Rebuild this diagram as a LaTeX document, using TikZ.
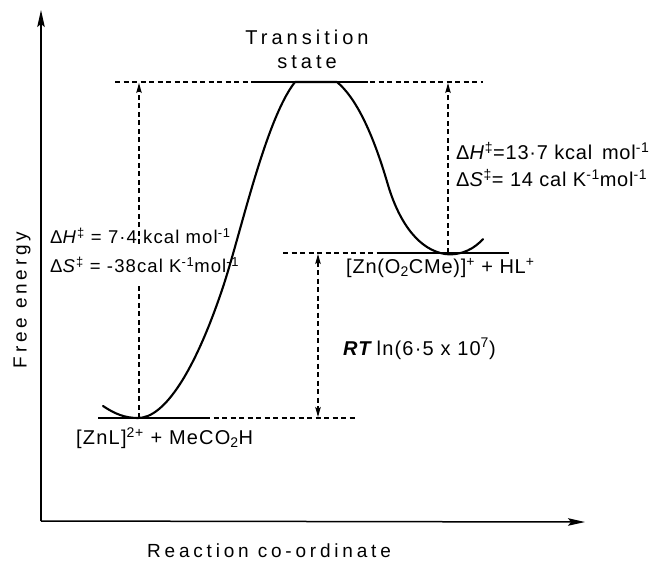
\documentclass[tikz,border=0pt]{standalone}
\usepackage{fontspec}
\setmainfont{Liberation Sans}
\newfontfamily\widefont{Liberation Sans}[LetterSpace=20]
\newfontfamily\labfont{Liberation Sans}[LetterSpace=6]
\newfontfamily\labfontb{Liberation Sans}[LetterSpace=4]
\usetikzlibrary{arrows.meta}
\begin{document}
\begin{tikzpicture}[x=1pt,y=-1pt,
  axis/.style={line width=1.5pt},
  level/.style={line width=1.7pt},
  guide/.style={line width=1.1pt, dash pattern=on 5pt off 3.5pt},
  curve/.style={line width=2.1pt, line join=round, line cap=round},
  bigtip/.style={-{Stealth[length=17pt,width=7.5pt,inset=3pt]}},
  smalltip/.style={-{Stealth[length=10pt,width=5.5pt,inset=2pt]}},
  bothtip/.style={{Stealth[length=10pt,width=5.5pt,inset=2pt]}-{Stealth[length=10pt,width=5.5pt,inset=2pt]}},
  lab/.style={anchor=west, inner sep=0pt},
]
\useasboundingbox (0,0) rectangle (655,563);
% axes
\coordinate (origin) at (41,521);
\coordinate (ytop) at (41,10);
\coordinate (xend) at (585,522);
\draw[axis,bigtip] (origin) -- (ytop);
\draw[axis,bigtip] (origin) -- (xend);
% levels
\coordinate (tsL) at (115,82);
\coordinate (tsR) at (483,82);
\coordinate (ts1) at (252,82);
\coordinate (ts2) at (368,82);
\coordinate (pL) at (283,253);
\coordinate (p1) at (380,253);
\coordinate (p2) at (509,253);
\coordinate (r1) at (98,418);
\coordinate (r2) at (205,418);
\coordinate (rR) at (357,418);
\draw[guide] (tsL) -- (tsR);
\draw[level] (ts1) -- (ts2);
\draw[guide] (pL) -- (p1);
\draw[level] (p1) -- (p2);
\draw[level] (r1) -- (r2);
\draw[guide] (r2) -- (rR);
% vertical arrows
\coordinate (a1b) at (139,418);
\coordinate (a1m) at (139,283);
\coordinate (a1n) at (139,244);
\coordinate (a1t) at (139,83);
\coordinate (a2b) at (448,253);
\coordinate (a2t) at (448,83);
\coordinate (a3t) at (318,254);
\coordinate (a3b) at (318,417);
\draw[guide] (a1b) -- (a1m);
\draw[guide,smalltip] (a1n) -- (a1t);
\draw[guide,smalltip] (a2b) -- (a2t);
\draw[guide,bothtip] (a3t) -- (a3b);
% texts
\node[align=center, font=\widefont\fontsize{20}{24}\selectfont] (tstate) at (307,49) {Transition\\state};
\node[rotate=90, font=\widefont\fontsize{19}{22}\selectfont] (ylab) at (22,300) {Free energy};
\node[font=\widefont\fontsize{19}{22}\selectfont] (xlab) at (269,551) {Reaction co-ordinate};
\node[lab, font=\labfont\fontsize{18.5}{22}\selectfont] (dhl) at (50,236) {Δ\textit{H}\textsuperscript{‡} = 7·4 kcal mol\textsuperscript{-1}};
\node[lab, font=\labfont\fontsize{18.5}{22}\selectfont] (dsl) at (50,265) {Δ\textit{S}\textsuperscript{‡} = -38cal K\textsuperscript{-1}mol\textsuperscript{-1}};
\node[lab, font=\labfontb\fontsize{20}{22}\selectfont] (dhr) at (456,151) {Δ\textit{H}\textsuperscript{‡}=13·7 kcal\, mol\textsuperscript{-1}};
\node[lab, font=\labfontb\fontsize{20}{22}\selectfont] (dsr) at (456,178) {Δ\textit{S}\textsuperscript{‡}= 14 cal K\textsuperscript{-1}mol\textsuperscript{-1}};
\node[lab, font=\labfont\fontsize{20}{22}\selectfont] (rt) at (343,349) {\textbf{\textit{RT}}\,ln(6·5 x 10\textsuperscript{7})};
\node[lab, font=\labfontb\fontsize{20}{22}\selectfont] (prod) at (346,268) {[Zn(O\textsubscript{2}CMe)]\textsuperscript{+} + HL\textsuperscript{+}};
\node[lab, font=\labfont\fontsize{20}{22}\selectfont] (react) at (76,438) {[ZnL]\textsuperscript{2+} + MeCO\textsubscript{2}H};
% energy curve
\draw[curve] (103,406) .. controls (115,414) and (125,418) .. (138,418)
  .. controls (165,418) and (195,370) .. (222,290)
  .. controls (240,237) and (265,120) .. (295,82)
  -- (337,82)
  .. controls (355,97) and (372,130) .. (388,185)
  .. controls (400,225) and (420,250) .. (445,254)
  .. controls (462,256) and (475,248) .. (483,239);
\end{tikzpicture}
\end{document}
